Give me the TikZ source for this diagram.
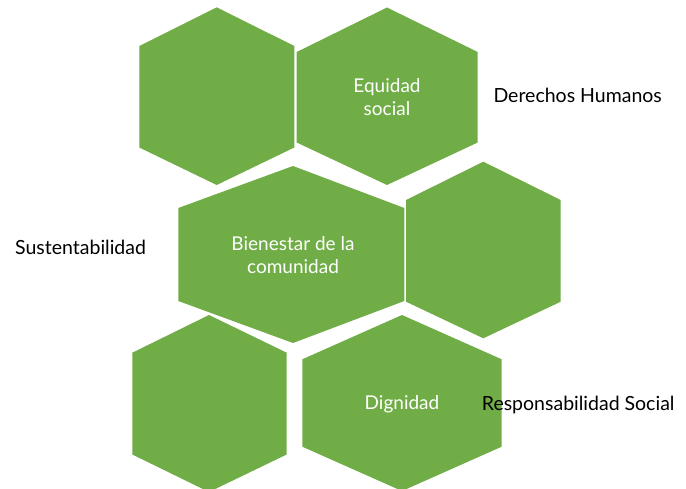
\documentclass[tikz,border=0pt]{standalone}
\usepackage{fontspec}
\setmainfont{Lato}
\definecolor{hexgreen}{HTML}{70AD47}
\tikzset{
  hexlabel/.style={text=white, font=\fontsize{19}{23}\selectfont, align=center, inner sep=0pt},
  sidelabel/.style={text=black, font=\fontsize{19.5}{23}\selectfont, anchor=base west, inner sep=0pt},
  hexfill/.style={fill=hexgreen, draw=none}
}
% #1 left x, #2 right x, #3 centre x, #4 top, #5 upper side, #6 lower side, #7 bottom
\newcommand{\hexshape}[7]{\path[hexfill] (#3,#4) -- (#2,#5) -- (#2,#6) -- (#3,#7) -- (#1,#6) -- (#1,#5) -- cycle;}
\begin{document}
\begin{tikzpicture}[x=1pt,y=-1pt]
\useasboundingbox (0,0) rectangle (686,489);
\clip (0,0) rectangle (686,489);
\hexshape{139.3}{294.3}{216.7}{7.3}{46}{147.5}{185}
\hexshape{296.7}{477.7}{387}{7.5}{52}{142.5}{185}
\hexshape{178.3}{404.3}{293}{166}{208}{301}{343}
\hexshape{406}{560.7}{483.3}{161.7}{200}{301.7}{338.3}
\hexshape{132.3}{286.7}{209}{315}{352.7}{454.5}{492}
\hexshape{302.3}{501.7}{402}{315}{359.3}{446.7}{491}
\node[hexlabel] (equidad) at (387,97) {Equidad\\social};
\node[hexlabel] (bienestar) at (293,255) {Bienestar de la\\comunidad};
\node[hexlabel, anchor=base] (dignidad) at (402,409.3) {Dignidad};
\node[sidelabel] (derechos) at (493.3,102.7) {Derechos Humanos};
\node[sidelabel] (susten) at (15,255) {Sustentabilidad};
\node[sidelabel] (resp) at (481.7,410.7) {Responsabilidad Social};
\end{tikzpicture}
\end{document}
